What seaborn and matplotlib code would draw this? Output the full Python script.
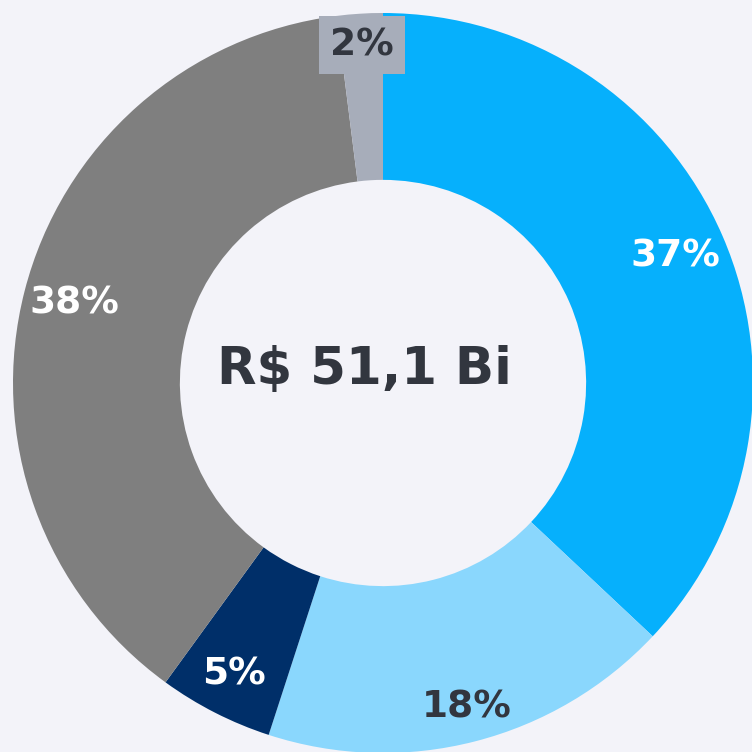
import numpy as np
import matplotlib
matplotlib.use("Agg")
import matplotlib.pyplot as plt
import seaborn as sns

categories = ["A", "B", "C", "D", "E"]
values = [37, 18, 5, 38, 2]
labels = ["37%", "18%", "5%", "38%", "2%"]
center_label = "R$ 51,1 Bi"

colors = ["#06b0fc", "#8ad7fd", "#002f69", "#7f7f7f", "#a7adba"]
label_colors = ["white", "#32363f", "white", "white", "#32363f"]
label_radii = [0.86, 0.905, 0.885, 0.86, 0.915]

bg = "#f3f3f9"
sns.set_theme(style="white")
plt.rcParams["font.family"] = ["DejaVu Sans"]

fig = plt.figure(figsize=(7.52, 7.52), dpi=100, facecolor=bg)
ax = fig.add_axes([0, 0, 1, 1])
ax.set_facecolor(bg)

wedges, _ = ax.pie(values, colors=colors, startangle=90, counterclock=False,
                   radius=1.0, wedgeprops=dict(width=0.451, edgecolor="none"))

total = sum(values)
cum = 0
for v, lab, c, r in zip(values, labels, label_colors, label_radii):
    mid = (cum + v / 2) / total * 360
    cum += v
    ang = np.deg2rad(90 - mid)
    x, y = r * np.cos(ang), r * np.sin(ang)
    kw = {}
    if lab == "2%":
        kw["bbox"] = dict(boxstyle="square,pad=0.3", fc=colors[4], ec="none")
    ax.text(x, y, lab, ha="center", va="center", color=c, fontsize=27,
            fontweight="bold", **kw)

ax.text(-0.05, 0.035, center_label, ha="center", va="center", color="#32363f",
        fontsize=37, fontweight="bold")

ax.set_xlim(-383 / 370, (752 - 383) / 370)
ax.set_ylim(-(752 - 383) / 370, 383 / 370)
ax.set_aspect("equal")
ax.axis("off")
fig.savefig("out.png", dpi=100, facecolor=bg)
